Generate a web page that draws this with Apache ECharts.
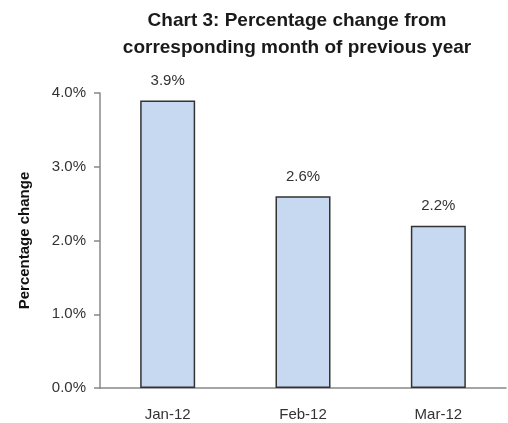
<!DOCTYPE html>
<html>
<head>
<meta charset="utf-8">
<script src="https://cdn.jsdelivr.net/npm/echarts@6/dist/echarts.min.js"></script>
<style>
html, body { margin: 0; padding: 0; background: #fff; }
#chart { width: 508px; height: 423px; }
</style>
</head>
<body>
<div id="chart"></div>
<script>
var months = ["Jan-12", "Feb-12", "Mar-12"];
var pctChange = [3.9, 2.6, 2.2];
var yTicks = [0, 1, 2, 3, 4];

var c = echarts.init(document.getElementById("chart"));
var font = "'Liberation Sans', Arial, sans-serif";
var opt = {
    animation: false,
    title: {
        text: "Chart 3: Percentage change from\ncorresponding month of previous year",
        left: 292,
        textAlign: "center",
        top: 2,
        textStyle: {
            fontFamily: font,
            fontWeight: "bold",
            fontSize: 19,
            lineHeight: 27,
            color: "#1a1a1a"
        }
    },
    grid: {
        left: 100,
        right: 2,
        top: 93,
        bottom: 35
    },
    xAxis: {
        type: "category",
        data: months,
        axisLine: { lineStyle: { color: "#888", width: 1.5 } },
        axisTick: { length: 6, lineStyle: { color: "#888", width: 1.5 } },
        axisLabel: {
            margin: 19,
            fontFamily: font,
            fontSize: 15,
            color: "#333"
        }
    },
    yAxis: {
        type: "value",
        min: yTicks[0],
        max: yTicks[yTicks.length - 1],
        interval: 1,
        name: "Percentage change",
        nameLocation: "middle",
        nameGap: 68,
        nameTextStyle: {
            fontFamily: font,
            fontWeight: "bold",
            fontSize: 15,
            color: "#111"
        },
        axisLine: { show: true, lineStyle: { color: "#888", width: 1.5 } },
        axisTick: { show: true, length: 6, lineStyle: { color: "#888", width: 1.5 } },
        splitLine: { show: false },
        axisLabel: {
            margin: 14,
            fontFamily: font,
            fontSize: 15,
            color: "#333",
            formatter: function (v) { return v.toFixed(1) + "%"; }
        }
    },
    series: [{
        type: "bar",
        data: pctChange,
        barWidth: 55,
        itemStyle: {
            color: "#c6d9f1",
            borderColor: "#333",
            borderWidth: 1.5
        },
        label: {
            show: true,
            position: "top",
            distance: 12,
            fontFamily: font,
            fontSize: 15,
            color: "#333",
            formatter: function (p) { return p.value.toFixed(1) + "%"; }
        }
    }]
};
c.setOption(opt);
</script>
</body>
</html>
